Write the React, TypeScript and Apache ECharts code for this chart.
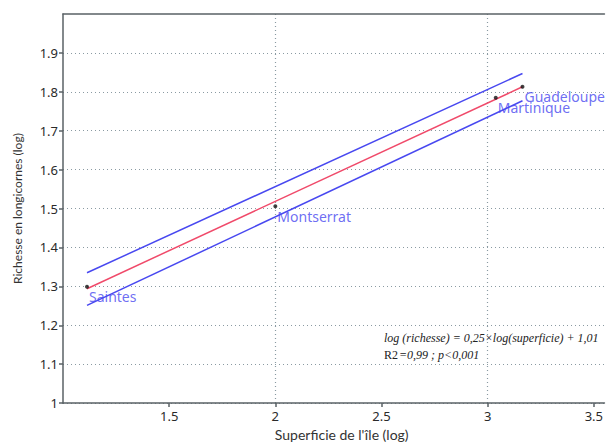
import React, { useEffect, useRef } from "react";
import * as echarts from "echarts";

const islands = ["Saintes", "Montserrat", "Martinique", "Guadeloupe"];
const logArea = [1.113, 2.0, 3.038, 3.164];
const logRichness = [1.299, 1.506, 1.785, 1.813];

const fitX = [1.113, 3.164];
const fitY = [1.294, 1.813];
const upperY = [1.335, 1.847];
const lowerY = [1.251, 1.777];

const xTicks = [1.5, 2, 2.5, 3, 3.5];
const xGridLines = [2, 3];
const yTicks = [1, 1.1, 1.2, 1.3, 1.4, 1.5, 1.6, 1.7, 1.8, 1.9];
const equationLine1 = "log (richesse) = 0,25×log(superficie) + 1,01";
const equationLine2a = "R2";
const equationLine2b = "=0,99 ; p<0,001";

const SANS = "Lato, 'Open Sans', sans-serif";
const NOTO = "'Noto Sans', 'Open Sans', sans-serif";
const SERIF = "'Liberation Serif', 'DejaVu Serif', serif";
const AXIS_COLOR = "#5a6266";
const GRID_COLOR = "#8a9aa2";
const BLUE = "#4848f0";
const RED = "#f04a6a";

export default function App() {
  const ref = useRef<HTMLDivElement>(null);
  useEffect(() => {
    if (!ref.current) return;
    const chart = echarts.init(ref.current, null, { renderer: "svg" });
    const pts = islands.map((n, i) => ({ name: n, value: [logArea[i], logRichness[i]] }));
    const seg = (ys: number[]) => fitX.map((x, i) => [x, ys[i]]);
    chart.setOption({
      animation: false,
      backgroundColor: "#ffffff",
      grid: { left: 63, top: 14, right: 0, height: 391, containLabel: false },
      xAxis: [
        {
          type: "value",
          min: 1,
          max: 3.55,
          interval: 0.5,
          position: "bottom",
          name: "Superficie de l'île (log)",
          nameLocation: "middle",
          nameGap: 21,
          nameTextStyle: { fontFamily: SANS, fontSize: 14, color: "#333", padding: [0, 0, 0, 16] },
          axisLine: { show: true, lineStyle: { color: AXIS_COLOR, width: 1.5 } },
          axisTick: {
            show: true,
            inside: false,
            length: 4,
            customValues: xTicks,
            lineStyle: { color: AXIS_COLOR, width: 1.5 },
          },
          axisLabel: {
            fontFamily: NOTO,
            fontSize: 13,
            color: "#2a2a2a",
            margin: 6,
            customValues: xTicks,
            formatter: (v: number) => String(v),
          },
          splitLine: { show: false },
        },
        {
          type: "value",
          min: 1,
          max: 3.55,
          position: "top",
          axisLine: { show: true, lineStyle: { color: AXIS_COLOR, width: 1.5 } },
          axisTick: { show: false, customValues: xGridLines },
          axisLabel: { show: false, customValues: xGridLines },
          splitLine: { show: true, lineStyle: { color: GRID_COLOR, type: [1, 3], width: 1.2 } },
        },
      ],
      yAxis: {
        type: "value",
        min: 1,
        max: 2,
        interval: 0.1,
        name: "Richesse en longicornes (log)",
        nameLocation: "middle",
        nameGap: 40,
        nameTextStyle: { fontFamily: SANS, fontSize: 12, color: "#333" },
        axisLine: { show: true, lineStyle: { color: AXIS_COLOR, width: 1.5 } },
        axisTick: {
          show: true,
          inside: false,
          length: 4,
          customValues: yTicks,
          lineStyle: { color: AXIS_COLOR, width: 1.5 },
        },
        axisLabel: {
          fontFamily: NOTO,
          fontSize: 13,
          color: "#2a2a2a",
          margin: 5,
          customValues: yTicks,
          formatter: (v: number) => String(Math.round(v * 10) / 10),
        },
        splitLine: { show: true, lineStyle: { color: GRID_COLOR, type: [1, 3], width: 1.2 } },
      },
      series: [
        {
          type: "line",
          data: seg(upperY),
          showSymbol: false,
          symbol: "none",
          lineStyle: { color: BLUE, width: 1.5 },
          z: 3,
        },
        {
          type: "line",
          data: seg(lowerY),
          showSymbol: false,
          symbol: "none",
          lineStyle: { color: BLUE, width: 1.5 },
          z: 3,
        },
        {
          type: "line",
          data: seg(fitY),
          showSymbol: false,
          symbol: "none",
          lineStyle: { color: RED, width: 1.5 },
          z: 4,
        },
        {
          type: "scatter",
          data: pts,
          symbol: "circle",
          symbolSize: 4,
          itemStyle: { color: "#111" },
          z: 5,
          label: {
            show: true,
            position: "right",
            distance: 0,
            offset: [0, 10],
            formatter: "{b}",
            fontFamily: NOTO,
            fontSize: 14,
            color: BLUE,
          },
        },
      ],
      graphic: [
        {
          type: "text",
          x: 384,
          y: 332,
          style: {
            text: equationLine1,
            font: `italic 12px ${SERIF}`,
            fill: "#222",
          },
        },
        {
          type: "text",
          x: 384,
          y: 349,
          style: {
            text: equationLine2a,
            font: `12px ${SERIF}`,
            fill: "#222",
          },
        },
        {
          type: "text",
          x: 399,
          y: 349,
          style: {
            text: equationLine2b,
            font: `italic 12px ${SERIF}`,
            fill: "#222",
          },
        },
      ],
    });
    return () => chart.dispose();
  }, []);
  return (
    <div
      ref={ref}
      style={{ position: "absolute", left: 0, top: 0, width: 606, height: 446 }}
    />
  );
}
